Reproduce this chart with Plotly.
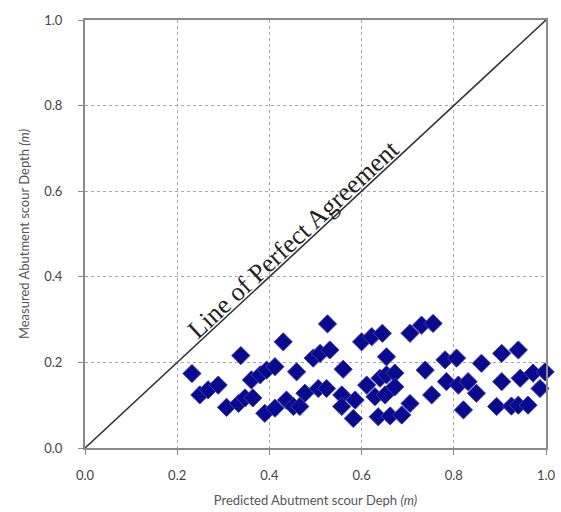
import plotly.graph_objects as go

predicted = [0.232, 0.249, 0.267, 0.289, 0.338, 0.307, 0.333, 0.347, 0.364, 0.361,
             0.380, 0.394, 0.412, 0.430, 0.390, 0.412, 0.437, 0.452, 0.459,
             0.526, 0.495, 0.510, 0.531, 0.560, 0.466, 0.477, 0.506, 0.524, 0.557, 0.557,
             0.586, 0.582, 0.600, 0.622, 0.645, 0.654, 0.611, 0.640, 0.654, 0.672,
             0.629, 0.651, 0.672, 0.636, 0.662, 0.687, 0.705, 0.705, 0.730,
             0.755, 0.738, 0.781, 0.806, 0.752, 0.784, 0.810, 0.831, 0.849, 0.821,
             0.860, 0.904, 0.940, 0.904, 0.944, 0.972, 0.998, 0.987, 0.893, 0.925,
             0.940, 0.961]
measured = [0.174, 0.124, 0.136, 0.147, 0.216, 0.095, 0.104, 0.117, 0.117, 0.159,
            0.171, 0.182, 0.190, 0.248, 0.081, 0.093, 0.112, 0.097, 0.178,
            0.290, 0.210, 0.221, 0.229, 0.184, 0.097, 0.128, 0.139, 0.139, 0.124, 0.097,
            0.112, 0.069, 0.248, 0.260, 0.268, 0.213, 0.147, 0.163, 0.171, 0.175,
            0.120, 0.124, 0.143, 0.073, 0.075, 0.077, 0.268, 0.104, 0.287,
            0.291, 0.182, 0.206, 0.210, 0.124, 0.155, 0.147, 0.155, 0.128, 0.089,
            0.198, 0.221, 0.229, 0.155, 0.163, 0.175, 0.178, 0.139, 0.097, 0.098,
            0.100, 0.100]
line_x = [0.0, 1.0]
line_y = [0.0, 1.0]
tick_vals = [0.0, 0.2, 0.4, 0.6, 0.8, 1.0]
tick_text = ["0.0", "0.2", "0.4", "0.6", "0.8", "1.0"]

fig = go.Figure()
fig.add_trace(go.Scatter(x=line_x, y=line_y, mode="lines",
                         line=dict(color="#333333", width=1.6), showlegend=False,
                         hoverinfo="skip", cliponaxis=False))
fig.add_trace(go.Scatter(x=predicted, y=measured, mode="markers",
                         marker=dict(symbol="diamond", size=14, color="#0a0a8c",
                                     line=dict(color="#3a3ab8", width=1)),
                         showlegend=False, cliponaxis=False))

fig.add_annotation(x=0.452, y=0.487, xref="x", yref="y", text="Line of Perfect Agreement",
                   showarrow=False, textangle=-42.9,
                   font=dict(family="Liberation Serif", size=26, color="#222222"))

axis_common = dict(range=[0, 1], tickvals=tick_vals, ticktext=tick_text,
                   showline=True, linecolor="#8a8a8a", linewidth=2, mirror=True,
                   showgrid=True, gridcolor="#a8a8a8", griddash="dot", gridwidth=1,
                   ticks="outside", ticklen=5, tickcolor="#8a8a8a",
                   tickfont=dict(family="Lato", size=13, color="#444444"),
                   zeroline=False, fixedrange=True, automargin=False)

fig.update_xaxes(**axis_common, ticklabelstandoff=9,
                 title=dict(text="Predicted Abutment scour Deph <i>(m)</i>",
                            font=dict(family="Lato", size=13, color="#555555"),
                            standoff=14))
fig.update_yaxes(**axis_common, ticklabelstandoff=13,
                 title=dict(text="Measured Abutment scour Depth <i>(m)</i>",
                            font=dict(family="Lato", size=13, color="#555555"),
                            standoff=12))

fig.update_layout(width=561, height=512, paper_bgcolor="white", plot_bgcolor="white",
                  margin=dict(l=85, r=15, t=20, b=64))

fig.write_html("out.html", config={"displayModeBar": False},
               post_script="document.body.style.margin='0';document.body.style.overflow='hidden';")
